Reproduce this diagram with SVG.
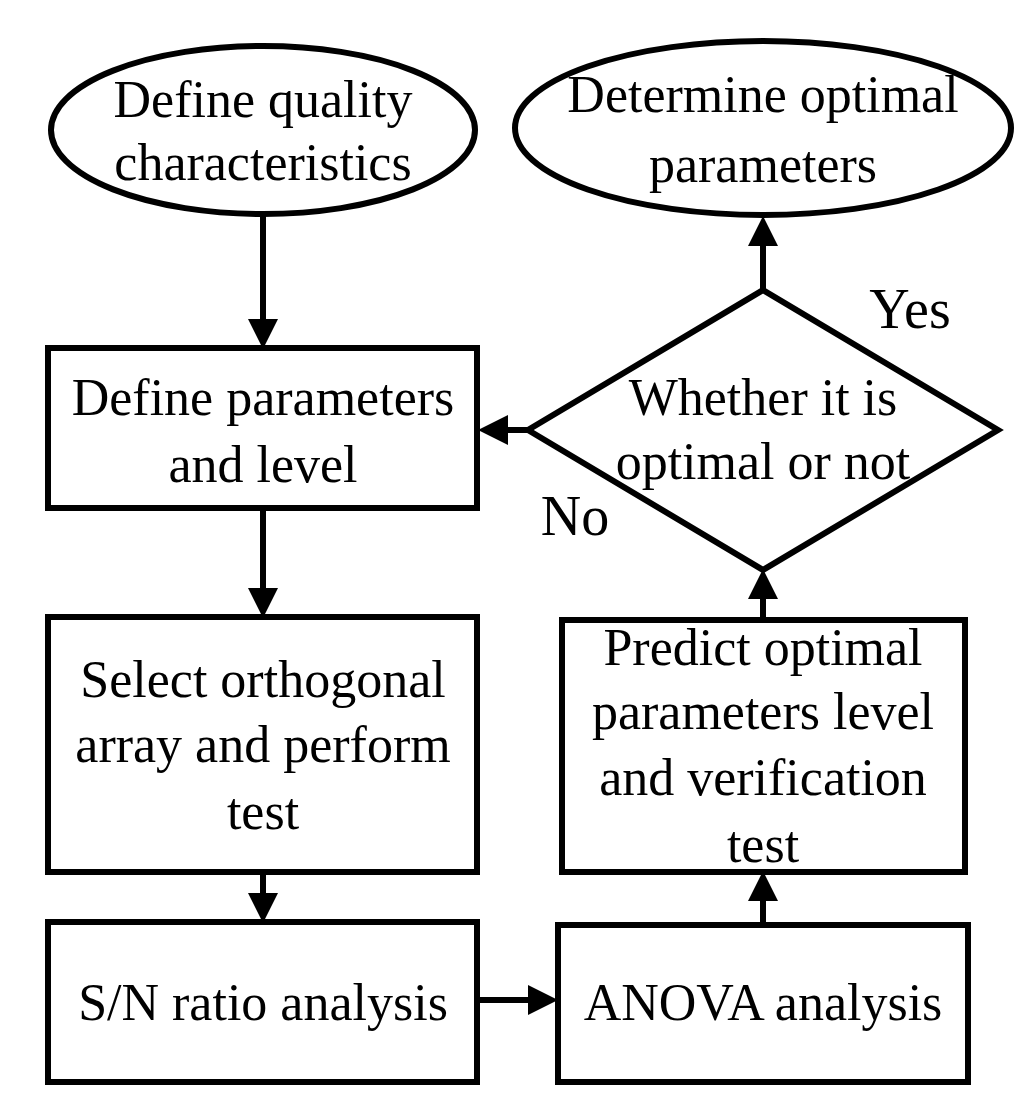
<svg xmlns="http://www.w3.org/2000/svg" width="1024" height="1099" viewBox="0 0 1024 1099">
<style>
.s{fill:#fff;stroke:#000;stroke-width:6}
text{font-family:"Liberation Serif",serif;font-size:52px;text-anchor:middle;fill:#000}
.c{stroke:#000;stroke-width:6;fill:none;marker-end:url(#a)}
</style>
<defs><marker id="a" markerWidth="5" markerHeight="5" refX="4" refY="2.5" orient="auto"><path d="M0,0L5,2.5L0,5z" fill="#000"/></marker></defs>
<rect width="1024" height="1099" fill="#fff"/>
<g id="connectors">
<line class="c" x1="263" y1="215" x2="263" y2="343"/>
<line class="c" x1="263" y1="508" x2="263" y2="612"/>
<line class="c" x1="263" y1="872" x2="263" y2="917"/>
<line class="c" x1="477" y1="1000" x2="552" y2="1000"/>
<line class="c" x1="763" y1="925" x2="763" y2="877"/>
<line class="c" x1="763" y1="620" x2="763" y2="575"/>
<line class="c" x1="763" y1="290" x2="763" y2="222"/>
<line class="c" x1="528" y1="430" x2="484" y2="430"/>
<text x="910" y="328" style="font-size:56px">Yes</text>
<text x="575" y="535" style="font-size:56px">No</text>
</g>
<g id="n1"><ellipse class="s" cx="263" cy="130" rx="212" ry="84"/><text x="263" y="117">Define quality</text><text x="263" y="180">characteristics</text></g>
<g id="n2"><ellipse class="s" cx="763" cy="128" rx="248" ry="87"/><text x="763" y="112">Determine optimal</text><text x="763" y="182">parameters</text></g>
<g id="n3"><rect class="s" x="48" y="348" width="429" height="160"/><text x="263" y="415">Define parameters</text><text x="263" y="482">and level</text></g>
<g id="n4"><rect class="s" x="48" y="617" width="429" height="255"/><text x="263" y="697">Select orthogonal</text><text x="263" y="762">array and perform</text><text x="263" y="829">test</text></g>
<g id="n5"><rect class="s" x="48" y="922" width="429" height="160"/><text x="263" y="1020">S/N ratio analysis</text></g>
<g id="n6"><rect class="s" x="558" y="925" width="410" height="157"/><text x="763" y="1020">ANOVA analysis</text></g>
<g id="n7"><rect class="s" x="562" y="620" width="403" height="252"/><text x="763" y="665">Predict optimal</text><text x="763" y="729">parameters level</text><text x="763" y="795">and verification</text><text x="763" y="862">test</text></g>
<g id="n8"><path class="s" d="M763,290L998,430L763,570L528,430z"/><text x="763" y="415">Whether it is</text><text x="763" y="479">optimal or not</text></g>
</svg>
